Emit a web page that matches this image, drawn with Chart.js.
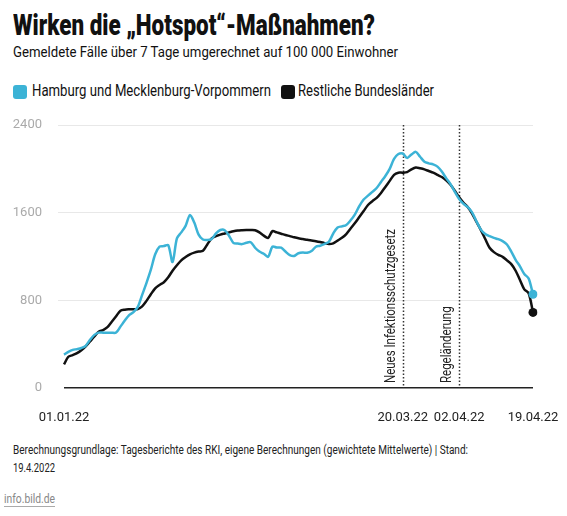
<!DOCTYPE html>
<html lang="de">
<head>
<meta charset="utf-8">
<script src="https://cdn.jsdelivr.net/npm/chart.js@4.4.1/dist/chart.umd.min.js"></script>
<style>
  body { margin: 0; background: #fff; font-family: Roboto, "Liberation Sans", sans-serif; color: #111; }
  #wrap { position: relative; width: 567px; height: 516px; overflow: hidden; }
  .t { position: absolute; white-space: nowrap; transform-origin: 0 0; display: inline-block; }
  #title { left: 13px; top: 11px; font-size: 29px; line-height: 29px; font-weight: 900; }
  #sub { left: 13px; top: 45px; font-size: 15px; line-height: 15px; }
  .box { position: absolute; width: 14px; height: 14px; border-radius: 3px; top: 85px; }
  .leg { top: 83px; font-size: 16px; line-height: 16px; }
  #chartBox { position: absolute; left: 0; top: 110px; width: 567px; height: 320px; }
  .foot { font-size: 12px; line-height: 12px; color: #222; left: 13px; }
  #src { left: 4px; top: 492px; font-size: 13px; line-height: 13px; color: #888; text-decoration: underline; text-decoration-color: #aaa; text-underline-offset: 3px; }
</style>
</head>
<body>
<div id="wrap">
  <div class="t" id="title">Wirken die „Hotspot“-Maßnahmen?</div>
  <div class="t" id="sub">Gemeldete Fälle über 7 Tage umgerechnet auf 100 000 Einwohner</div>
  <div class="box" style="left:13px;background:#3cb3d6"></div>
  <div class="t leg" id="leg1" style="left:32px">Hamburg und Mecklenburg-Vorpommern</div>
  <div class="box" style="left:281px;background:#111"></div>
  <div class="t leg" id="leg2" style="left:298px">Restliche Bundesländer</div>
  <div id="chartBox"><canvas id="incidenceChart"></canvas></div>
  <div class="t foot" id="foot1" style="top:444px">Berechnungsgrundlage: Tagesberichte des RKI, eigene Berechnungen (gewichtete Mittelwerte) | Stand:</div>
  <div class="t foot" id="foot2" style="top:462px">19.4.2022</div>
  <div class="t" id="src">info.bild.de</div>
</div>
<script>
// one value per day, 01.01.22 (day 0) to 19.04.22 (day 108)
const hamburgMV = [
  305, 330, 348, 355, 365, 385, 440, 485, 505, 505,
  505, 504, 506, 560, 615, 665, 692, 740, 850, 960,
  1080, 1220, 1290, 1295, 1304, 1150, 1365, 1420, 1480, 1578,
  1510, 1400, 1355, 1350, 1360, 1410, 1442, 1440, 1390, 1325,
  1318, 1313, 1325, 1330, 1280, 1245, 1225, 1197, 1290, 1282,
  1280, 1245, 1213, 1205, 1230, 1236, 1234, 1250, 1289, 1298,
  1315, 1335, 1410, 1465, 1475, 1487, 1530, 1585, 1660, 1720,
  1755, 1790, 1825, 1880, 1935, 2000, 2090, 2135, 2140, 2100,
  2130, 2155, 2110, 2065, 2050, 2040, 2020, 1975, 1915, 1860,
  1790, 1725, 1680, 1650, 1600, 1520, 1445, 1405, 1385, 1370,
  1358, 1340, 1310, 1245, 1170, 1110, 1040, 1000, 855
];
const restDE = [
  215, 285, 300, 318, 345, 380, 425, 470, 513, 528,
  555, 605, 655, 705, 715, 718, 719, 720, 745, 795,
  855, 910, 940, 965, 1010, 1070, 1120, 1165, 1195, 1220,
  1235, 1245, 1252, 1310, 1365, 1385, 1400, 1410, 1420, 1430,
  1437, 1440, 1442, 1442, 1440, 1420, 1390, 1370, 1432, 1420,
  1408, 1396, 1386, 1375, 1366, 1360, 1352, 1346, 1340, 1332,
  1322, 1314, 1320, 1345, 1370, 1405, 1455, 1505, 1560, 1615,
  1670, 1705, 1735, 1780, 1835, 1890, 1945, 1965, 1965, 1970,
  1995, 2012, 2005, 1995, 1980, 1965, 1945, 1925, 1895, 1855,
  1800, 1740, 1690, 1650, 1590, 1515, 1441, 1360, 1280, 1240,
  1215, 1197, 1165, 1130, 1070, 985, 900, 865, 690
];
const days = hamburgMV.map((v, i) => i);

// x tick labels (day index -> text)
const tickDays = [0, 78, 91, 108];
const tickLabels = ['01.01.22', '20.03.22', '02.04.22', '19.04.22'];

// marked dates
const eventDays = [78, 91];
const eventLabels = ['Neues Infektionsschutzgesetz', 'Regeländerung'];

const fontFamily = 'Roboto, "Liberation Sans", sans-serif';
const lastIdx = hamburgMV.length - 1;

// squeeze html text to the narrow look of the original
function fitWidth(id, w) {
  const el = document.getElementById(id);
  el.style.transform = 'scaleX(' + (w / el.getBoundingClientRect().width) + ')';
}
fitWidth('title', 362);
fitWidth('sub', 385);
fitWidth('leg1', 239);
fitWidth('leg2', 136);
fitWidth('foot1', 455);
fitWidth('foot2', 42);
fitWidth('src', 51);

// dotted lines + rotated notes at the two dates
const eventLines = {
  id: 'eventLines',
  beforeDatasetsDraw(chart) {
    const { ctx, chartArea, scales } = chart;
    ctx.font = '14px ' + fontFamily;
    const squeeze = 154 / ctx.measureText(eventLabels[0]).width;
    eventDays.forEach(function (d, i) {
      const x = Math.round(scales.x.getPixelForValue(d)) + 0.5;
      ctx.save();
      ctx.strokeStyle = '#333';
      ctx.lineWidth = 1.5;
      ctx.setLineDash([1.5, 2]);
      ctx.beginPath();
      ctx.moveTo(x, chartArea.top);
      ctx.lineTo(x, chartArea.bottom);
      ctx.stroke();
      ctx.restore();

      ctx.save();
      ctx.translate(x - 5, chartArea.bottom - 5);
      ctx.rotate(-Math.PI / 2);
      ctx.scale(squeeze, 1);
      ctx.fillStyle = '#222';
      ctx.font = '14px ' + fontFamily;
      ctx.textAlign = 'left';
      ctx.textBaseline = 'bottom';
      ctx.fillText(eventLabels[i], 0, 0);
      ctx.restore();
    });
  }
};

const ctx = document.getElementById('incidenceChart').getContext('2d');
const incidenceChart = new Chart(ctx, {
  type: 'line',
  data: {
    labels: days,
    datasets: [{
      label: 'Hamburg und Mecklenburg-Vorpommern',
      data: hamburgMV,
      borderColor: '#3cb3d6',
      backgroundColor: '#3cb3d6',
      borderWidth: 2.5,
      tension: 0.3,
      pointRadius: c => c.dataIndex === lastIdx ? 4.5 : 0,
      pointBorderWidth: 0
    }, {
      label: 'Restliche Bundesländer',
      data: restDE,
      borderColor: '#111',
      backgroundColor: '#111',
      borderWidth: 2.5,
      tension: 0.3,
      pointRadius: c => c.dataIndex === lastIdx ? 4.5 : 0,
      pointBorderWidth: 0
    }]
  },
  options: {
    responsive: true,
    maintainAspectRatio: false,
    animation: false,
    layout: { autoPadding: false, padding: { top: 15, right: 34, left: 0, bottom: 0 } },
    plugins: {
      legend: { display: false },
      tooltip: { enabled: false }
    },
    scales: {
      x: {
        type: 'category',
        offset: false,
        grid: { display: false },
        border: { display: false },
        ticks: {
          autoSkip: false,
          maxRotation: 0,
          padding: 14,
          color: '#222',
          font: { family: fontFamily, size: 13 },
          callback: function (v, i) {
            const k = tickDays.indexOf(i);
            return k >= 0 ? tickLabels[k] : null;
          }
        },
        afterFit: function (scale) {
          scale.height = 42;
          // keep label overflow from moving the plot area
          scale.paddingLeft = 0;
          scale.paddingRight = 0;
        }
      },
      y: {
        min: 0,
        max: 2400,
        border: { display: false },
        grid: {
          color: c => c.tick.value === 0 ? '#222' : '#e8e8e8',
          lineWidth: c => c.tick.value === 0 ? 1.5 : 1,
          tickLength: 6,
          tickColor: c => c.tick.value === 0 ? 'rgba(0,0,0,0)' : '#e8e8e8'
        },
        ticks: {
          stepSize: 800,
          padding: 16,
          color: '#aaa',
          font: { family: fontFamily, size: 13 },
          callback: v => String(v)
        },
        afterFit: function (scale) {
          scale.width = 64;
          scale.paddingTop = 0;
          scale.paddingBottom = 0;
        }
      }
    }
  },
  plugins: [eventLines]
});
</script>
</body>
</html>
